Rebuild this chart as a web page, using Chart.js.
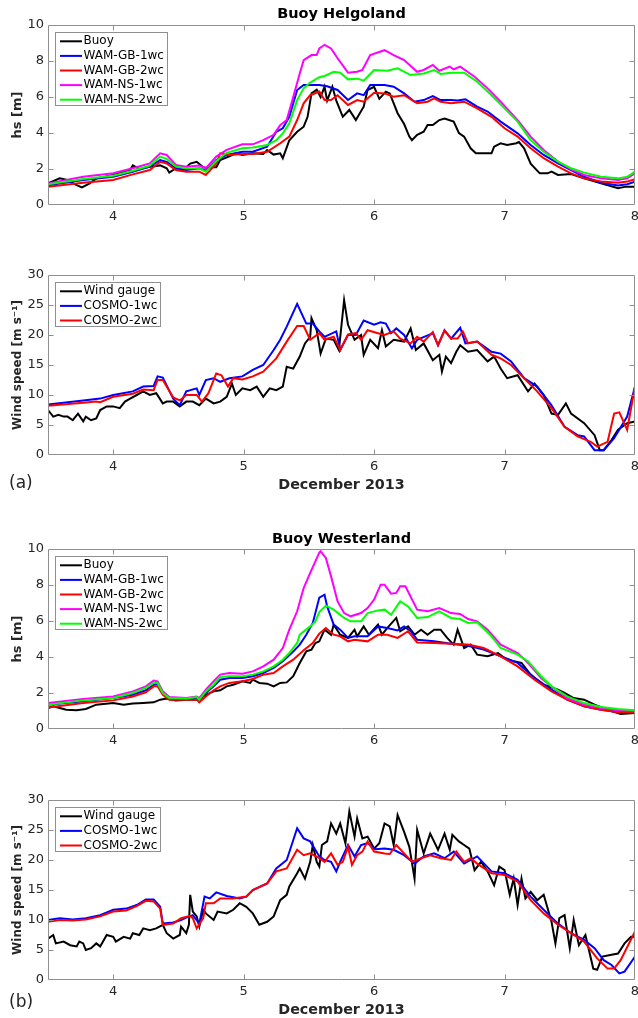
<!DOCTYPE html>
<html><head><meta charset="utf-8">
<script src="https://cdn.jsdelivr.net/npm/chart.js@4.4.1/dist/chart.umd.min.js"></script>
<style>
html,body{margin:0;padding:0;background:#fff;}
body{width:638px;height:1018px;overflow:hidden;position:relative;}
.panel{position:absolute;left:0;}
.tag{position:absolute;left:9px;font-family:"DejaVu Sans";font-size:17px;line-height:17px;color:#262626;}
</style></head><body>
<div class="panel" style="top:0px"><canvas id="c1" width="660" height="240"></canvas></div>
<div class="panel" style="top:255px"><canvas id="c2" width="660" height="245"></canvas></div>
<div class="panel" style="top:520px"><canvas id="c3" width="660" height="244"></canvas></div>
<div class="panel" style="top:780px"><canvas id="c4" width="660" height="245"></canvas></div>
<div class="tag" style="top:474px">(a)</div>
<div class="tag" style="top:993px">(b)</div>
<script>
// ---------- tick values ----------
const xTicks = [4, 5, 6, 7, 8];
const hsTicks = [0, 2, 4, 6, 8, 10];
const windTicks = [0, 5, 10, 15, 20, 25, 30];

// ---------- labels ----------
const waveLabels = ['Buoy', 'WAM-GB-1wc', 'WAM-GB-2wc', 'WAM-NS-1wc', 'WAM-NS-2wc'];
const windLabels = ['Wind gauge', 'COSMO-1wc', 'COSMO-2wc'];

// ---------- (a) Helgoland significant wave height [day, m] ----------
const hgBuoy = [[3.50,1.2],[3.59,1.48],[3.64,1.4],[3.72,1.1],[3.76,0.98],[3.82,1.2],[3.87,1.48],[4.00,1.67],[4.13,1.95],[4.15,2.2],[4.20,2.0],[4.28,2.13],[4.36,2.2],[4.41,2.04],[4.43,1.8],[4.48,2.04],[4.54,1.95],[4.59,2.3],[4.64,2.4],[4.69,2.1],[4.73,2.04],[4.77,2.1],[4.79,2.1],[4.82,2.5],[4.89,2.7],[4.94,2.87],[4.99,2.78],[5.07,2.87],[5.15,2.83],[5.18,3.05],[5.23,2.8],[5.28,2.87],[5.30,2.6],[5.35,3.6],[5.41,4.07],[5.46,4.35],[5.49,4.9],[5.52,6.2],[5.56,6.4],[5.59,6.0],[5.62,6.57],[5.64,5.8],[5.68,6.57],[5.71,5.8],[5.76,4.9],[5.81,5.28],[5.86,4.72],[5.92,5.46],[5.95,6.39],[6.00,6.57],[6.04,5.9],[6.09,6.3],[6.12,6.2],[6.18,5.1],[6.23,4.5],[6.27,3.8],[6.29,3.6],[6.33,3.9],[6.38,4.07],[6.41,4.44],[6.45,4.44],[6.50,4.72],[6.54,4.8],[6.61,4.63],[6.65,4.0],[6.69,3.8],[6.74,3.15],[6.78,2.87],[6.84,2.87],[6.90,2.87],[6.92,3.24],[6.97,3.43],[7.02,3.33],[7.09,3.43],[7.11,3.5],[7.15,3.15],[7.20,2.3],[7.27,1.76],[7.33,1.76],[7.36,1.85],[7.41,1.67],[7.51,1.72],[7.61,1.48],[7.74,1.2],[7.87,0.93],[7.93,1.02],[8.00,1.02]];
const hgGB1 = [[3.50,1.1],[3.77,1.39],[4.00,1.57],[4.15,1.85],[4.28,2.13],[4.36,2.5],[4.41,2.4],[4.48,2.04],[4.56,1.94],[4.66,2.04],[4.71,1.9],[4.79,2.5],[4.87,2.78],[4.99,2.96],[5.07,2.96],[5.18,3.24],[5.25,4.07],[5.30,4.26],[5.35,4.9],[5.41,6.39],[5.46,6.67],[5.58,6.67],[5.64,6.6],[5.72,6.39],[5.80,5.83],[5.87,6.2],[5.92,6.1],[5.97,6.67],[6.08,6.67],[6.15,6.57],[6.23,6.2],[6.31,5.74],[6.38,5.83],[6.45,6.05],[6.51,5.83],[6.59,5.83],[6.64,5.8],[6.70,5.87],[6.79,5.46],[6.87,5.19],[6.97,4.63],[7.10,3.98],[7.20,3.33],[7.30,2.78],[7.41,2.31],[7.51,1.94],[7.61,1.57],[7.74,1.24],[7.87,1.09],[7.94,1.15],[8.00,1.3]];
const hgGB2 = [[3.50,1.02],[3.77,1.24],[4.00,1.39],[4.15,1.7],[4.28,1.94],[4.36,2.4],[4.41,2.31],[4.48,1.94],[4.56,1.85],[4.66,1.85],[4.71,1.67],[4.79,2.31],[4.82,2.87],[4.89,2.78],[4.99,2.83],[5.07,2.83],[5.18,2.96],[5.28,3.43],[5.35,3.8],[5.41,4.72],[5.46,5.65],[5.51,6.1],[5.58,6.3],[5.62,5.83],[5.67,5.83],[5.72,6.1],[5.80,5.56],[5.87,5.83],[5.92,5.74],[6.00,6.24],[6.08,6.2],[6.15,6.02],[6.23,6.1],[6.33,5.65],[6.41,5.74],[6.46,5.93],[6.51,5.74],[6.59,5.65],[6.69,5.74],[6.79,5.37],[6.90,4.9],[7.00,4.26],[7.10,3.8],[7.20,3.15],[7.30,2.6],[7.41,2.13],[7.51,1.76],[7.61,1.48],[7.74,1.3],[7.87,1.24],[7.94,1.3],[8.00,1.43]];
const hgNS1 = [[3.50,1.2],[3.77,1.57],[4.00,1.76],[4.15,2.04],[4.28,2.31],[4.36,2.87],[4.41,2.78],[4.48,2.22],[4.56,2.13],[4.66,2.19],[4.71,2.04],[4.79,2.69],[4.87,3.06],[4.99,3.37],[5.07,3.37],[5.15,3.6],[5.23,3.9],[5.28,4.44],[5.33,4.72],[5.38,6.0],[5.43,7.3],[5.46,8.05],[5.52,8.33],[5.56,8.33],[5.58,8.7],[5.62,8.9],[5.67,8.7],[5.72,8.15],[5.80,7.35],[5.87,7.4],[5.91,7.5],[5.97,8.33],[6.08,8.6],[6.15,8.33],[6.23,8.05],[6.33,7.4],[6.38,7.5],[6.45,7.78],[6.50,7.46],[6.58,7.69],[6.61,7.54],[6.66,7.69],[6.77,7.13],[6.87,6.48],[6.97,5.74],[7.10,4.72],[7.20,3.8],[7.30,3.06],[7.41,2.41],[7.51,1.98],[7.61,1.67],[7.74,1.48],[7.87,1.39],[7.94,1.48],[8.00,1.76]];
const hgNS2 = [[3.50,1.15],[3.77,1.44],[4.00,1.63],[4.15,1.9],[4.28,2.19],[4.36,2.69],[4.41,2.56],[4.48,2.13],[4.56,2.04],[4.66,2.04],[4.71,1.85],[4.79,2.44],[4.87,2.9],[4.99,3.15],[5.07,3.19],[5.18,3.33],[5.25,3.6],[5.30,3.98],[5.35,4.54],[5.41,5.83],[5.46,6.48],[5.51,6.8],[5.58,7.1],[5.62,7.17],[5.69,7.4],[5.74,7.35],[5.80,6.98],[5.87,7.02],[5.92,6.91],[6.00,7.5],[6.10,7.46],[6.18,7.59],[6.28,7.22],[6.38,7.31],[6.46,7.5],[6.51,7.28],[6.59,7.35],[6.69,7.35],[6.79,6.85],[6.90,6.1],[7.00,5.37],[7.10,4.63],[7.20,3.6],[7.30,2.96],[7.41,2.41],[7.51,2.04],[7.61,1.8],[7.74,1.57],[7.87,1.48],[7.94,1.57],[8.00,1.85]];

// ---------- (a) Helgoland wind speed [day, m/s] ----------
const hgWind = [[3.50,7.5],[3.54,6.4],[3.58,6.7],[3.62,6.4],[3.65,6.4],[3.69,5.8],[3.73,6.9],[3.77,5.6],[3.79,6.4],[3.83,5.8],[3.87,6.1],[3.90,7.5],[3.95,8.1],[4.00,8.1],[4.05,7.8],[4.09,8.9],[4.13,9.4],[4.18,10],[4.23,10.6],[4.28,10],[4.33,10.3],[4.38,8.6],[4.41,8.9],[4.46,8.9],[4.51,8.1],[4.56,8.9],[4.61,8.9],[4.66,8.3],[4.71,9.4],[4.77,8.6],[4.82,8.9],[4.87,9.7],[4.91,11.9],[4.94,10],[4.99,11.1],[5.05,10.8],[5.10,11.4],[5.15,9.7],[5.20,11.1],[5.25,10.8],[5.30,11.4],[5.33,14.7],[5.38,14.4],[5.43,16.4],[5.47,18.6],[5.51,19.7],[5.52,22.8],[5.56,20.8],[5.59,16.9],[5.63,19.4],[5.69,19.2],[5.73,17.5],[5.77,25.8],[5.80,21.7],[5.85,19.2],[5.90,20],[5.92,16.7],[5.97,19.2],[6.03,17.8],[6.06,20.8],[6.09,18.1],[6.15,19.2],[6.23,18.9],[6.28,21.1],[6.32,17.5],[6.38,18.6],[6.45,15.8],[6.50,16.7],[6.52,13.9],[6.55,16.4],[6.59,15.3],[6.63,17.2],[6.66,18.3],[6.72,17.2],[6.79,17.5],[6.87,15.6],[6.92,16.4],[6.97,14.4],[7.02,12.8],[7.10,13.3],[7.18,10.6],[7.23,11.9],[7.30,10],[7.36,6.9],[7.41,6.7],[7.47,8.6],[7.51,6.9],[7.61,5.3],[7.69,3.3],[7.73,0.8],[7.76,0.8],[7.82,2.5],[7.87,4.2],[7.94,5.3],[8.00,5.6]];
const hgC1 = [[3.50,8.4],[3.77,9.1],[3.90,9.4],[4.00,10],[4.15,10.6],[4.23,11.4],[4.31,11.5],[4.34,13.1],[4.38,12.9],[4.46,9.4],[4.51,8.3],[4.56,10.6],[4.64,11.1],[4.66,10],[4.71,12.5],[4.77,12.8],[4.82,12.2],[4.89,12.8],[4.99,13.1],[5.07,14.2],[5.15,15],[5.23,17.5],[5.28,19.2],[5.33,21.4],[5.41,25.2],[5.48,21.9],[5.53,21.9],[5.58,20.6],[5.62,19.7],[5.71,20.6],[5.74,17.5],[5.80,20],[5.86,20],[5.92,22.4],[6.00,21.7],[6.05,22.1],[6.09,21.9],[6.13,20.3],[6.17,21.1],[6.23,20],[6.29,17.8],[6.33,19.2],[6.45,20.3],[6.49,18.3],[6.54,20.8],[6.59,19.4],[6.66,21.2],[6.70,18.6],[6.79,18.9],[6.90,17.2],[6.97,16.9],[7.05,15.6],[7.15,12.8],[7.25,11.4],[7.36,8.3],[7.46,4.7],[7.56,3.3],[7.61,3.1],[7.69,0.8],[7.76,0.8],[7.84,2.8],[7.94,6.4],[8.00,11.4]];
const hgC2 = [[3.50,8.2],[3.77,8.7],[3.87,8.9],[3.90,8.8],[4.00,9.7],[4.15,10.2],[4.23,10.9],[4.31,10.8],[4.34,12.5],[4.38,12.5],[4.46,9.6],[4.51,9.1],[4.56,10],[4.64,10],[4.68,8.9],[4.73,10.3],[4.79,13.6],[4.83,13.3],[4.88,11.4],[4.92,12.8],[4.99,12.6],[5.07,13.1],[5.15,13.9],[5.25,16.1],[5.33,18.9],[5.41,21.5],[5.46,21.5],[5.51,19.2],[5.58,20.3],[5.62,19.2],[5.69,19.7],[5.74,17.5],[5.80,20.1],[5.86,20.3],[5.90,19.2],[5.95,20.8],[6.03,20.3],[6.08,20],[6.15,20.6],[6.20,19.4],[6.28,18.6],[6.33,19.7],[6.38,18.9],[6.45,20.5],[6.49,18.3],[6.54,20.7],[6.59,19.4],[6.64,19.4],[6.68,20.6],[6.72,18.6],[6.79,18.9],[6.90,16.7],[6.97,16.1],[7.05,15],[7.15,12.8],[7.25,10.6],[7.36,7.8],[7.46,4.7],[7.56,3.1],[7.66,2.2],[7.71,1.4],[7.79,2.2],[7.84,6.9],[7.88,7.1],[7.94,4.2],[8.00,11.4]];

// ---------- (b) Westerland significant wave height [day, m] ----------
const wlBuoy = [[3.50,1.17],[3.54,1.26],[3.59,1.17],[3.64,1.07],[3.72,1.04],[3.79,1.11],[3.87,1.35],[4.00,1.44],[4.08,1.35],[4.15,1.41],[4.23,1.44],[4.31,1.48],[4.36,1.63],[4.41,1.69],[4.48,1.59],[4.56,1.63],[4.64,1.63],[4.71,1.9],[4.77,2.09],[4.82,2.15],[4.87,2.37],[4.92,2.46],[4.99,2.65],[5.05,2.56],[5.07,2.74],[5.12,2.56],[5.18,2.52],[5.23,2.37],[5.28,2.56],[5.33,2.59],[5.38,2.93],[5.43,3.67],[5.48,4.31],[5.52,4.41],[5.55,4.78],[5.58,4.87],[5.62,5.52],[5.67,5.24],[5.69,5.8],[5.74,5.24],[5.80,5.06],[5.85,5.52],[5.87,5.15],[5.92,5.7],[5.96,5.24],[6.03,5.8],[6.06,5.24],[6.10,5.61],[6.17,6.17],[6.20,5.43],[6.26,5.7],[6.31,5.24],[6.36,5.52],[6.41,5.24],[6.46,5.52],[6.51,5.52],[6.56,5.06],[6.61,4.69],[6.64,5.52],[6.69,4.5],[6.74,4.69],[6.79,4.13],[6.87,4.04],[6.95,4.22],[7.00,3.94],[7.07,3.76],[7.13,3.67],[7.20,3.02],[7.30,2.46],[7.41,2.19],[7.46,2.0],[7.53,1.72],[7.61,1.63],[7.69,1.35],[7.79,1.07],[7.89,0.83],[8.00,0.89]];
const wlGB1 = [[3.50,1.35],[3.77,1.54],[4.00,1.72],[4.15,1.9],[4.25,2.15],[4.31,2.46],[4.34,2.5],[4.38,2.0],[4.43,1.72],[4.56,1.67],[4.64,1.72],[4.66,1.54],[4.71,2.0],[4.77,2.37],[4.82,2.74],[4.89,2.83],[4.99,2.83],[5.07,2.93],[5.15,3.11],[5.23,3.39],[5.30,3.76],[5.38,4.31],[5.43,4.69],[5.48,5.24],[5.53,5.89],[5.58,7.3],[5.62,7.46],[5.64,6.81],[5.69,5.8],[5.74,5.52],[5.80,5.06],[5.85,5.15],[5.95,5.15],[6.03,5.7],[6.10,5.61],[6.18,5.48],[6.23,5.7],[6.28,5.43],[6.33,4.96],[6.46,4.87],[6.59,4.74],[6.72,4.63],[6.84,4.41],[6.97,4.04],[7.10,3.67],[7.23,2.83],[7.36,2.19],[7.48,1.63],[7.61,1.26],[7.74,1.07],[7.87,0.94],[8.00,0.93]];
const wlGB2 = [[3.50,1.2],[3.77,1.44],[4.00,1.59],[4.15,1.81],[4.25,2.04],[4.31,2.37],[4.34,2.37],[4.38,1.9],[4.43,1.63],[4.56,1.63],[4.64,1.63],[4.66,1.48],[4.71,1.81],[4.77,2.15],[4.82,2.37],[4.89,2.56],[4.99,2.65],[5.07,2.78],[5.15,3.02],[5.23,3.11],[5.30,3.48],[5.38,3.85],[5.46,4.37],[5.53,4.78],[5.58,5.3],[5.63,5.61],[5.69,5.24],[5.74,5.15],[5.80,4.87],[5.85,4.96],[5.95,4.87],[6.03,5.24],[6.10,5.24],[6.18,5.06],[6.26,5.43],[6.33,4.81],[6.46,4.78],[6.59,4.74],[6.72,4.69],[6.84,4.5],[6.97,4.04],[7.10,3.48],[7.23,2.74],[7.36,2.09],[7.48,1.63],[7.61,1.26],[7.74,1.07],[7.87,0.93],[8.00,0.93]];
const wlNS1 = [[3.50,1.44],[3.77,1.67],[4.00,1.81],[4.15,2.09],[4.25,2.37],[4.31,2.69],[4.34,2.65],[4.38,2.09],[4.43,1.78],[4.56,1.72],[4.64,1.81],[4.66,1.72],[4.71,2.19],[4.77,2.65],[4.82,3.02],[4.89,3.11],[4.99,3.07],[5.07,3.2],[5.15,3.48],[5.23,3.85],[5.30,4.5],[5.35,5.52],[5.41,6.54],[5.46,7.83],[5.51,8.67],[5.58,9.8],[5.59,9.87],[5.63,9.5],[5.67,8.48],[5.72,7.09],[5.77,6.44],[5.82,6.26],[5.90,6.44],[5.95,6.72],[6.00,7.19],[6.05,8.02],[6.08,8.02],[6.13,7.52],[6.17,7.56],[6.20,7.93],[6.24,7.93],[6.33,6.63],[6.41,6.54],[6.50,6.72],[6.59,6.44],[6.66,6.39],[6.72,6.11],[6.79,5.98],[6.87,5.52],[6.97,4.69],[7.10,4.22],[7.18,3.67],[7.28,2.83],[7.36,2.37],[7.48,1.72],[7.61,1.35],[7.74,1.17],[7.87,1.04],[8.00,1.02]];
const wlNS2 = [[3.50,1.35],[3.77,1.59],[4.00,1.72],[4.15,2.0],[4.25,2.28],[4.31,2.56],[4.34,2.56],[4.38,2.0],[4.43,1.72],[4.56,1.69],[4.64,1.78],[4.66,1.63],[4.71,2.09],[4.77,2.46],[4.82,2.89],[4.89,2.93],[4.99,2.93],[5.07,3.02],[5.15,3.2],[5.23,3.48],[5.30,3.85],[5.35,4.22],[5.41,4.78],[5.43,5.24],[5.51,5.7],[5.55,5.98],[5.58,6.5],[5.63,6.85],[5.69,6.63],[5.77,6.17],[5.82,5.98],[5.90,5.98],[5.95,6.44],[6.03,6.59],[6.08,6.63],[6.13,6.35],[6.20,7.09],[6.26,6.81],[6.33,6.17],[6.41,6.22],[6.50,6.54],[6.59,6.17],[6.66,6.11],[6.72,5.89],[6.79,5.93],[6.90,5.15],[6.97,4.5],[7.10,4.13],[7.18,3.76],[7.28,2.93],[7.36,2.37],[7.48,1.81],[7.61,1.44],[7.74,1.22],[7.87,1.11],[8.00,1.04]];

// ---------- (b) Westerland wind speed [day, m/s] ----------
const wlWind = [[3.50,6.9],[3.54,7.5],[3.56,6.1],[3.62,6.4],[3.67,5.8],[3.72,5.6],[3.74,6.4],[3.77,6.1],[3.79,5.0],[3.83,5.3],[3.87,6.1],[3.90,5.6],[3.95,7.5],[4.00,7.2],[4.02,6.4],[4.08,7.2],[4.13,6.9],[4.15,7.8],[4.20,7.5],[4.23,8.6],[4.28,8.3],[4.33,8.6],[4.38,9.2],[4.41,7.8],[4.46,6.9],[4.51,7.5],[4.52,8.9],[4.56,7.8],[4.58,9.2],[4.59,14.2],[4.61,11.4],[4.64,10.6],[4.66,8.9],[4.69,11.7],[4.71,11.1],[4.77,10],[4.80,11.4],[4.87,11.1],[4.92,11.7],[4.97,12.8],[5.02,12.2],[5.07,11.1],[5.12,9.2],[5.18,9.7],[5.23,10.6],[5.28,13.3],[5.33,14.2],[5.35,15.6],[5.41,17.8],[5.43,18.6],[5.47,16.9],[5.51,19.7],[5.53,22.5],[5.56,19.7],[5.58,18.9],[5.60,22.5],[5.64,23.1],[5.67,26.1],[5.71,24.4],[5.74,26.1],[5.78,22.8],[5.81,28.1],[5.85,23.9],[5.87,26.9],[5.91,23.6],[5.95,23.9],[6.00,21.9],[6.04,22.8],[6.08,26.1],[6.12,25.6],[6.15,22.5],[6.18,27.5],[6.23,24.7],[6.27,22.2],[6.31,16.9],[6.33,25],[6.38,21.1],[6.43,24.4],[6.49,21.7],[6.54,24.4],[6.58,21.7],[6.60,24.2],[6.65,23.1],[6.69,22.5],[6.73,21.9],[6.77,18.3],[6.82,19.7],[6.87,18.1],[6.92,15.8],[6.96,18.9],[7.00,18.3],[7.04,14.2],[7.07,16.9],[7.10,12.5],[7.13,16.9],[7.16,13.6],[7.20,14.7],[7.25,13.3],[7.30,14.2],[7.36,9.7],[7.39,6.1],[7.42,10.3],[7.46,10.8],[7.50,5.3],[7.53,10],[7.57,5.8],[7.62,7.5],[7.68,1.9],[7.71,1.7],[7.75,3.9],[7.82,4.2],[7.87,4.4],[7.92,6.1],[7.97,7.2],[8.00,7.2]];
const wlC1 = [[3.50,10],[3.59,10.3],[3.69,10.1],[3.79,10.3],[3.90,10.8],[4.00,11.7],[4.10,11.9],[4.18,12.5],[4.25,13.4],[4.31,13.4],[4.36,12.2],[4.38,9.4],[4.46,9.6],[4.52,10],[4.56,10.4],[4.61,10.8],[4.66,9.4],[4.70,13.9],[4.74,13.6],[4.79,14.6],[4.87,14.0],[4.97,13.6],[5.02,13.9],[5.07,15],[5.18,16.1],[5.25,18.6],[5.33,20],[5.41,25.3],[5.46,23.6],[5.51,23.1],[5.58,20.6],[5.62,20],[5.67,19.7],[5.71,18.1],[5.74,19.7],[5.80,22.5],[5.85,20.6],[5.90,22.5],[5.95,22.8],[6.01,21.8],[6.08,21.9],[6.15,21.7],[6.23,20.8],[6.31,19.4],[6.38,20.6],[6.46,21.1],[6.54,20.3],[6.61,21.4],[6.69,19.4],[6.79,20.6],[6.90,18.1],[7.00,17.8],[7.10,16.7],[7.20,13.9],[7.30,11.7],[7.41,9.4],[7.51,7.8],[7.61,6.7],[7.69,5.3],[7.76,3.3],[7.82,2.5],[7.88,1.1],[7.92,1.4],[8.00,3.9]];
const wlC2 = [[3.50,9.7],[3.59,10],[3.69,9.9],[3.79,10.1],[3.90,10.6],[4.00,11.4],[4.10,11.6],[4.18,12.3],[4.25,13.2],[4.31,13.1],[4.36,11.9],[4.38,9.2],[4.46,9.4],[4.52,10.3],[4.59,10.7],[4.61,10.3],[4.64,8.6],[4.69,10.3],[4.71,12.8],[4.77,12.8],[4.82,13.6],[4.92,13.6],[5.02,13.9],[5.07,15],[5.18,16.1],[5.25,18.1],[5.33,18.6],[5.41,21.7],[5.46,20.8],[5.51,21.1],[5.58,20.3],[5.62,19.7],[5.67,21.1],[5.72,19.2],[5.76,19.7],[5.80,22.2],[5.83,19.2],[5.87,20.8],[5.91,21.4],[5.95,23.1],[6.00,21.4],[6.08,21.1],[6.12,21],[6.17,22.5],[6.23,21.1],[6.29,19.7],[6.36,20.3],[6.43,20.8],[6.51,20.3],[6.59,20],[6.63,21.4],[6.69,19.7],[6.74,20.3],[6.79,19.4],[6.90,17.8],[7.00,17.5],[7.10,16.4],[7.20,13.3],[7.30,11.1],[7.41,9.2],[7.51,7.8],[7.61,6.4],[7.71,3.6],[7.79,1.9],[7.84,1.9],[7.89,3.3],[8.00,8.1]];

// ---------- styling ----------
const waveColors = ['#000000', '#0000ff', '#ff0000', '#ff00ff', '#00ff00'];
const windColors = ['#000000', '#0000ff', '#ff0000'];
const FONT = '"DejaVu Sans"';
const FRAME = '#8f8f8f';
const TXT = '#262626';
const TICK = 5;

Chart.defaults.font.family = FONT;
Chart.defaults.color = TXT;

const axisDecor = {
  id: 'axisDecor',
  afterDraw(chart) {
    const {ctx, chartArea: a} = chart;
    const xs = chart.scales.x, ys = chart.scales.y;
    const L = Math.round(a.left) + 0.5, R = Math.round(a.right) - 0.5;
    const T = Math.round(a.top) + 0.5, B = Math.round(a.bottom) - 0.5;
    ctx.save();
    ctx.strokeStyle = FRAME; ctx.lineWidth = 1;
    ctx.beginPath();
    ctx.rect(L, T, R - L, B - T);
    xs.ticks.forEach(t => {
      const p = Math.round(xs.getPixelForValue(t.value)) + 0.5;
      if (p > L + 1 && p < R - 1) { ctx.moveTo(p, B); ctx.lineTo(p, B - TICK); ctx.moveTo(p, T); ctx.lineTo(p, T + TICK); }
    });
    ys.ticks.forEach(t => {
      const p = Math.round(ys.getPixelForValue(t.value)) + 0.5;
      if (p > T + 1 && p < B - 1) { ctx.moveTo(L, p); ctx.lineTo(L + TICK, p); ctx.moveTo(R, p); ctx.lineTo(R - TICK, p); }
    });
    ctx.stroke();
    // legend box inside the axes (top-left)
    const ds = chart.data.datasets;
    ctx.font = '12px ' + FONT;
    let maxW = 0;
    ds.forEach(d => { maxW = Math.max(maxW, ctx.measureText(d.label).width); });
    const bx = Math.round(a.left + 7), by = Math.round(a.top + 7);
    const bw = Math.round(28.5 + maxW + 3), bh = Math.round(ds.length * 14.6);
    ctx.fillStyle = '#fff';
    ctx.fillRect(bx, by, bw, bh);
    ctx.strokeStyle = FRAME; ctx.lineWidth = 1;
    ctx.strokeRect(bx + 0.5, by + 0.5, bw, bh);
    ds.forEach((d, i) => {
      const cy = by + 9.3 + i * 14.6;
      ctx.strokeStyle = d.borderColor; ctx.lineWidth = 2;
      ctx.beginPath(); ctx.moveTo(bx + 5, cy); ctx.lineTo(bx + 27, cy); ctx.stroke();
      ctx.fillStyle = '#000'; ctx.textBaseline = 'middle'; ctx.textAlign = 'left';
      ctx.fillText(d.label, bx + 28.5, cy);
    });
    ctx.restore();
  }
};

function makePanel(p) {
  const n = p.series.length;
  const datasets = p.series.map((s, i) => ({
    label: p.labels[i], data: s, borderColor: p.colors[i], backgroundColor: p.colors[i],
    borderWidth: 2, pointRadius: 0, tension: 0, fill: false, order: n - i
  }));
  new Chart(document.getElementById(p.id), {
    type: 'line',
    data: { datasets },
    options: {
      responsive: false, animation: false, devicePixelRatio: 1, events: [],
      layout: { padding: { left: 0, right: 25, top: p.padTop, bottom: 0 } },
      plugins: {
        legend: { display: false }, tooltip: { enabled: false },
        title: p.title ? { display: true, text: p.title, fullSize: false, color: '#000',
          font: { size: 14.5, weight: 'bold', family: FONT }, padding: p.titlePad } : { display: false }
      },
      scales: {
        x: {
          type: 'linear', min: 3.5, max: 8,
          afterBuildTicks: s => { s.ticks = xTicks.map(v => ({ value: v })); },
          afterFit: s => { s.height = p.axisH; },
          grid: { display: false, drawTicks: false }, border: { display: false },
          ticks: { padding: 4, color: TXT, font: { size: 13 }, maxRotation: 0, autoSkip: false },
          title: p.xTitle ? { display: true, text: p.xTitle, color: TXT,
            font: { size: 14.3, weight: 'bold', family: FONT }, padding: { top: 0, bottom: 6.4 } } : { display: false }
        },
        y: {
          type: 'linear', min: 0, max: p.yMax,
          afterBuildTicks: s => { s.ticks = p.yTicks.map(v => ({ value: v })); },
          afterFit: s => { s.width = 48; },
          grid: { display: false, drawTicks: false }, border: { display: false },
          ticks: { padding: 4, color: TXT, font: { size: 13 } },
          title: { display: true, text: p.yLabel, color: TXT,
            font: { size: p.yFont, weight: 'bold', family: FONT }, padding: { top: p.yPad, bottom: 0 } }
        }
      }
    },
    plugins: [axisDecor]
  });
}

makePanel({ id: 'c1', title: 'Buoy Helgoland', titlePad: { top: 6, bottom: 1.6 }, padTop: 0, axisH: 35, xTitle: null,
  yMax: 10, yTicks: hsTicks, yLabel: 'hs [m]', yFont: 13, yPad: 9.7,
  labels: waveLabels, colors: waveColors, series: [hgBuoy, hgGB1, hgGB2, hgNS1, hgNS2] });
makePanel({ id: 'c2', title: null, padTop: 20, axisH: 45, xTitle: 'December 2013',
  yMax: 30, yTicks: windTicks, yLabel: 'Wind speed [m s⁻¹]', yFont: 12, yPad: 10.3,
  labels: windLabels, colors: windColors, series: [hgWind, hgC1, hgC2] });
makePanel({ id: 'c3', title: 'Buoy Westerland', titlePad: { top: 10.3, bottom: 1.3 }, padTop: 0, axisH: 35, xTitle: null,
  yMax: 10, yTicks: hsTicks, yLabel: 'hs [m]', yFont: 13, yPad: 9.7,
  labels: waveLabels, colors: waveColors, series: [wlBuoy, wlGB1, wlGB2, wlNS1, wlNS2] });
makePanel({ id: 'c4', title: null, padTop: 20, axisH: 45, xTitle: 'December 2013',
  yMax: 30, yTicks: windTicks, yLabel: 'Wind speed [m s⁻¹]', yFont: 12, yPad: 10.3,
  labels: windLabels, colors: windColors, series: [wlWind, wlC1, wlC2] });
</script>
</body></html>
